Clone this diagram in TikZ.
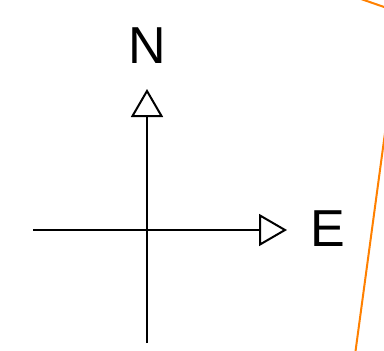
\documentclass[tikz,border=0pt]{standalone}
\usepackage{fontspec}
\setmainfont{Liberation Sans}
\usepackage{tikz}
\usetikzlibrary{
  arrows.meta,
  positioning
}

\begin{document}
\begin{tikzpicture}[
    x=1pt,
    y=-1pt,
    >={Triangle[open,length=28pt,width=32pt]},
    axis/.style={->,line width=2pt},
    label/.style={font=\fontsize{52}{52}\selectfont,inner sep=0pt}
    ]

    \useasboundingbox (0,0) rectangle (384,351);
    \clip (0,0) rectangle (384,351);

    \coordinate (west) at (33,230);
    \coordinate (east) at (287,230);
    \coordinate (south) at (147,343);
    \coordinate (north) at (147,89);

    \draw[axis] (west)--(east);
    \draw[axis] (south)--(north);

    \node[label] (n) at (147,46) {N};
    \node[label] (e) at (328,229) {E};

    \draw[line width=2pt,color={rgb,255:red,255;green,128;blue,0}]
    (361,-1)--(387,8);
    \draw[line width=2pt,color={rgb,255:red,255;green,128;blue,0}]
    (385,133)--(355,355);

\end{tikzpicture}
\end{document}
